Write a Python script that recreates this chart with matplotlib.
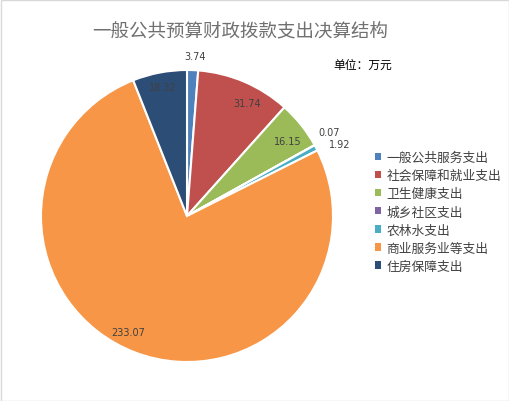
import numpy as np
import matplotlib
matplotlib.use('Agg')
import matplotlib.pyplot as plt
from matplotlib.patches import Patch, Rectangle

plt.rcParams['font.family'] = ['Noto Sans CJK SC', 'DejaVu Sans']

categories = ['一般公共服务支出', '社会保障和就业支出', '卫生健康支出', '城乡社区支出',
              '农林水支出', '商业服务业等支出', '住房保障支出']
values = [3.74, 31.74, 16.15, 0.07, 1.92, 233.07, 18.32]
value_labels = ['3.74', '31.74', '16.15', '0.07', '1.92', '233.07', '18.32']
colors = ['#4F81BD', '#C0504D', '#9BBB59', '#8064A2', '#4BACC6', '#F79646', '#2C4D75']

# label placement: radius (in pie radii) and angle shift (deg) per slice
label_r = [1.10, 0.88, 0.86, 1.13, 1.16, 0.89, 0.90]
label_shift = [-0.6, -5, -2, 1.5, -2.6, -6, 0]

W, H = 510, 402
fig = plt.figure(figsize=(W / 100, H / 100), dpi=100)

cx, cy, R = 187, 217, 146
ax = fig.add_axes([(cx - R) / W, (H - cy - R) / H, 2 * R / W, 2 * R / H])
wedges, _ = ax.pie(values, colors=colors, startangle=90, counterclock=False,
                   wedgeprops=dict(edgecolor='white', linewidth=1.5))
ax.set_xlim(-1, 1)
ax.set_ylim(-1, 1)
ax.set_aspect('equal')
ax.axis('off')

for w, txt, r, s in zip(wedges, value_labels, label_r, label_shift):
    mid = np.deg2rad((w.theta1 + w.theta2) / 2 + s)
    ax.text(r * np.cos(mid), r * np.sin(mid), txt, ha='center', va='center',
            fontsize=7, color='#404040', family='DejaVu Sans')

fig.text(240 / W, 1 - 32 / H, '一般公共预算财政拨款支出决算结构', ha='center', va='center',
         fontsize=13.3, color='#707070')
fig.text(333 / W, 1 - 65 / H, '单位：万元', ha='left', va='center',
         fontsize=8.5, color='black')

handles = [Patch(facecolor=c, edgecolor='none') for c in colors]
fig.legend(handles, categories, loc='upper left', bbox_to_anchor=(375 / W, 1 - 152 / H),
           frameon=False, fontsize=9.2, handlelength=0.5, handleheight=0.5,
           handletextpad=0.4, labelspacing=0.4, borderaxespad=0, borderpad=0,
           labelcolor='#404040')

fig.add_artist(Rectangle((0.5 / W, 0.5 / H), 1 - 1.5 / W, 1 - 1.5 / H, transform=fig.transFigure,
                         fill=False, edgecolor='#D9D9D9', linewidth=1))

fig.savefig('out.png', dpi=100)
